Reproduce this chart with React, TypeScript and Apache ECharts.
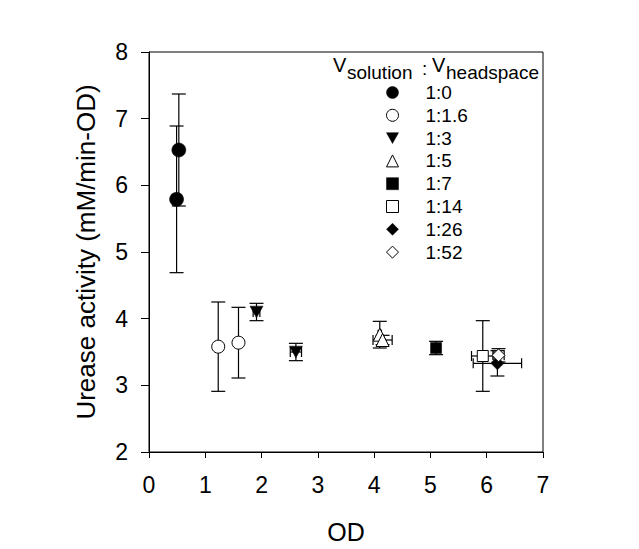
import React, { useEffect, useRef } from "react";
import * as echarts from "echarts";

// ---- data ----
const seriesNames = ["1:0", "1:1.6", "1:3", "1:5", "1:7", "1:14", "1:26", "1:52"];

const od_1_0 = [0.53, 0.49];
const ua_1_0 = [6.53, 5.79];
const xe_1_0 = [0, 0];
const ye_1_0 = [0.84, 1.1];

const od_1_1_6 = [1.23, 1.59];
const ua_1_1_6 = [3.58, 3.64];
const xe_1_1_6 = [0.05, 0.05];
const ye_1_1_6 = [0.67, 0.53];

const od_1_3 = [1.91, 2.61];
const ua_1_3 = [4.1, 3.5];
const xe_1_3 = [0.06, 0.1];
const ye_1_3 = [0.13, 0.13];

const od_1_5 = [4.1, 4.15];
const ua_1_5 = [3.76, 3.68];
const xe_1_5 = [0.03, 0.17];
const ye_1_5 = [0.2, 0.07];

const od_1_7 = [5.1];
const ua_1_7 = [3.56];
const xe_1_7 = [0.08];
const ye_1_7 = [0.1];

const od_1_14 = [5.93];
const ua_1_14 = [3.44];
const xe_1_14 = [0.2];
const ye_1_14 = [0.53];

const od_1_26 = [6.19];
const ua_1_26 = [3.33];
const xe_1_26 = [0.43];
const ye_1_26 = [0.19];

const od_1_52 = [6.21];
const ua_1_52 = [3.45];
const xe_1_52 = [0.1];
const ye_1_52 = [0.1];

const xTicks = [0, 1, 2, 3, 4, 5, 6, 7];
const yTicks = [2, 3, 4, 5, 6, 7, 8];

const FONT = "'Liberation Sans', Arial, sans-serif";
const DOWN_TRI = "path://M0,0L10,0L5,9Z";

type Grp = { name: string; od: number[]; ua: number[]; xe: number[]; ye: number[]; symbol: string; size: number; filled: boolean };

const groups: Grp[] = [
  { name: seriesNames[0], od: od_1_0, ua: ua_1_0, xe: xe_1_0, ye: ye_1_0, symbol: "circle", size: 14, filled: true },
  { name: seriesNames[1], od: od_1_1_6, ua: ua_1_1_6, xe: xe_1_1_6, ye: ye_1_1_6, symbol: "circle", size: 13, filled: false },
  { name: seriesNames[2], od: od_1_3, ua: ua_1_3, xe: xe_1_3, ye: ye_1_3, symbol: DOWN_TRI, size: 13, filled: true },
  { name: seriesNames[3], od: od_1_5, ua: ua_1_5, xe: xe_1_5, ye: ye_1_5, symbol: "triangle", size: 13, filled: false },
  { name: seriesNames[4], od: od_1_7, ua: ua_1_7, xe: xe_1_7, ye: ye_1_7, symbol: "rect", size: 11, filled: true },
  { name: seriesNames[5], od: od_1_14, ua: ua_1_14, xe: xe_1_14, ye: ye_1_14, symbol: "rect", size: 11, filled: false },
  { name: seriesNames[6], od: od_1_26, ua: ua_1_26, xe: xe_1_26, ye: ye_1_26, symbol: "diamond", size: 13, filled: true },
  { name: seriesNames[7], od: od_1_52, ua: ua_1_52, xe: xe_1_52, ye: ye_1_52, symbol: "diamond", size: 13, filled: false },
];

export default function App() {
  const ref = useRef<HTMLDivElement>(null);

  useEffect(() => {
    if (!ref.current) return;
    const chart = echarts.init(ref.current, undefined, { renderer: "svg" });

    const errData: number[][] = [];
    groups.forEach((g) => {
      g.od.forEach((x, i) => errData.push([x, g.ua[i], g.xe[i], g.ye[i]]));
    });

    const styleOf = (g: Grp) =>
      g.filled
        ? { color: "#000", borderColor: "#000", borderWidth: 0.5, opacity: 1 }
        : { color: "#fff", borderColor: "#000", borderWidth: 1, opacity: 1 };

    const scatterSeries = groups.map((g) => ({
      type: "scatter",
      name: g.name,
      z: 3,
      symbol: g.symbol,
      symbolSize: g.size,
      symbolKeepAspect: true,
      itemStyle: styleOf(g),
      emphasis: { disabled: true },
      data: g.od.map((x, i) => [x, g.ua[i]]),
    }));

    const errSeries = {
      type: "custom",
      name: "error",
      z: 2,
      silent: true,
      data: errData,
      renderItem: (_params: any, api: any) => {
        const x = api.value(0);
        const y = api.value(1);
        const xe = api.value(2);
        const ye = api.value(3);
        const st = { stroke: "#000", lineWidth: 1.2 };
        const children: any[] = [];
        if (ye > 0) {
          const top = api.coord([x, y + ye]);
          const bot = api.coord([x, y - ye]);
          children.push({ type: "line", shape: { x1: top[0], y1: top[1], x2: bot[0], y2: bot[1] }, style: st });
          children.push({ type: "line", shape: { x1: top[0] - 7, y1: top[1], x2: top[0] + 7, y2: top[1] }, style: st });
          children.push({ type: "line", shape: { x1: bot[0] - 7, y1: bot[1], x2: bot[0] + 7, y2: bot[1] }, style: st });
        }
        if (xe > 0) {
          const l = api.coord([x - xe, y]);
          const r = api.coord([x + xe, y]);
          children.push({ type: "line", shape: { x1: l[0], y1: l[1], x2: r[0], y2: r[1] }, style: st });
          children.push({ type: "line", shape: { x1: l[0], y1: l[1] - 5, x2: l[0], y2: l[1] + 5 }, style: st });
          children.push({ type: "line", shape: { x1: r[0], y1: r[1] - 5, x2: r[0], y2: r[1] + 5 }, style: st });
        }
        return { type: "group", children };
      },
    };

    const titleStyle = (text: string, size: number) => ({ text, fill: "#000", font: `${size}px ${FONT}`, verticalAlign: "middle", align: "left" });

    chart.setOption({
      animation: false,
      backgroundColor: "#fff",
      grid: { left: 149, right: 96, top: 52, bottom: 97, show: true, borderColor: "#000", borderWidth: 1 },
      xAxis: {
        type: "value",
        min: xTicks[0],
        max: xTicks[xTicks.length - 1],
        interval: 1,
        name: "OD",
        nameLocation: "middle",
        nameGap: 67,
        nameTextStyle: { fontSize: 25, color: "#000", fontFamily: FONT },
        axisLine: { show: true, onZero: false, lineStyle: { color: "#000", width: 1 } },
        axisTick: { show: true, length: 6, lineStyle: { color: "#000" } },
        axisLabel: { fontSize: 23, color: "#000", fontFamily: FONT, margin: 21 },
        splitLine: { show: false },
      },
      yAxis: {
        type: "value",
        min: yTicks[0],
        max: yTicks[yTicks.length - 1],
        interval: 1,
        name: "Urease activity (mM/min-OD)",
        nameLocation: "middle",
        nameGap: 50,
        nameTextStyle: { fontSize: 26, color: "#000", fontFamily: FONT },
        axisLine: { show: true, onZero: false, lineStyle: { color: "#000", width: 1 } },
        axisTick: { show: true, length: 8, lineStyle: { color: "#000" } },
        axisLabel: { fontSize: 23, color: "#000", fontFamily: FONT, margin: 21 },
        splitLine: { show: false },
      },
      legend: {
        data: groups.map((g) => ({ name: g.name, icon: g.symbol, itemStyle: styleOf(g) })),
        orient: "vertical",
        left: 381,
        top: 78,
        itemWidth: 12,
        itemHeight: 12,
        itemGap: 3.8,
        selectedMode: false,
        symbolKeepAspect: true,
        textStyle: { fontSize: 19, color: "#000", fontFamily: FONT, lineHeight: 18, padding: [0, 0, 0, 22] },
      },
      graphic: [
        { type: "text", x: 333, y: 65, style: titleStyle("V", 20) },
        { type: "text", x: 347, y: 72, style: titleStyle("solution", 19) },
        { type: "text", x: 422, y: 68, style: titleStyle(":", 19) },
        { type: "text", x: 432, y: 65, style: titleStyle("V", 20) },
        { type: "text", x: 446, y: 72, style: titleStyle("headspace", 19) },
      ],
      series: [errSeries, ...scatterSeries],
    });

    return () => chart.dispose();
  }, []);

  return <div ref={ref} style={{ position: "fixed", left: 0, top: 0, width: 639, height: 549 }} />;
}
